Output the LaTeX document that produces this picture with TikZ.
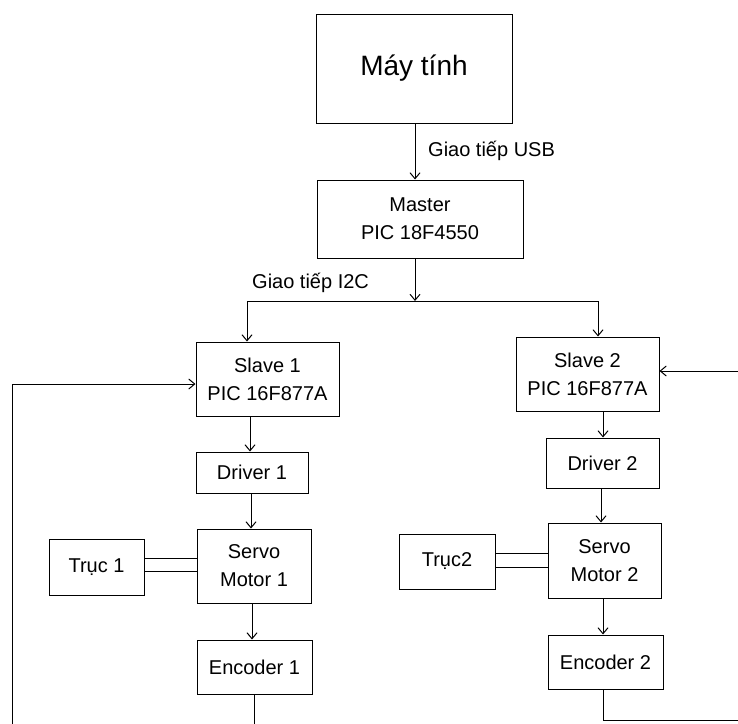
\documentclass[tikz,border=0pt]{standalone}
\usepackage{fontspec}
\setmainfont{Liberation Sans}
\usetikzlibrary{arrows.meta}
\begin{document}
\begin{tikzpicture}[x=1pt,y=-1pt,
  box/.style={draw,line width=1pt,rectangle,inner sep=0pt,align=center,
    font=\fontsize{20}{28}\selectfont},
  arr/.style={line width=1pt,-{Straight Barb[length=6pt,width=10pt,line width=1pt]}},
  ln/.style={line width=1pt},
  lbl/.style={inner sep=0pt,font=\fontsize{20}{24}\selectfont}]
\useasboundingbox (0,0) rectangle (738,723);
% boxes
\node[box,minimum width=196pt,minimum height=109pt,font=\fontsize{28}{32}\selectfont] (may) at (414,68.5) {Máy tính};
\node[box,minimum width=206pt,minimum height=78pt] (master) at (420,219) {Master\\PIC 18F4550};
\node[box,minimum width=143pt,minimum height=74pt] (s1) at (267.5,379) {Slave 1\\PIC 16F877A};
\node[box,minimum width=143pt,minimum height=74pt] (s2) at (587.5,374) {Slave 2\\PIC 16F877A};
\node[box,minimum width=112pt,minimum height=41pt] (d1) at (252,472.5) {Driver 1};
\node[box,minimum width=113pt,minimum height=50pt] (d2) at (602.5,463) {Driver 2};
\node[box,minimum width=114pt,minimum height=74pt] (m1) at (254,566) {Servo\\Motor 1};
\node[box,minimum width=113pt,minimum height=75pt] (m2) at (604.5,560.5) {Servo\\Motor 2};
\node[box,minimum width=95pt,minimum height=56pt] (t1) at (96.5,567) {Trục 1};
\node[box,minimum width=96pt,minimum height=55pt] (t2) at (447,561.5) {Trục2};
\node[box,minimum width=115pt,minimum height=54pt] (e1) at (254.5,667) {Encoder 1};
\node[box,minimum width=115pt,minimum height=54pt] (e2) at (605.5,662) {Encoder 2};
% labels
\node[lbl,anchor=west] (usb) at (428,151) {Giao tiếp USB};
\node[lbl,anchor=west] (i2c) at (252,283) {Giao tiếp I2C};
% bus
\coordinate (busL) at (247,301);
\coordinate (busR) at (598,301);
\coordinate (busM) at (415,301);
\draw[arr] (may.south -| busM) -- (master.north -| busM);
\draw[arr] (master.south -| busM) -- (busM);
\draw[ln] (busL) -- (busR);
\draw[arr] (busL) -- (s1.north -| busL);
\draw[arr] (busR) -- (s2.north -| busR);
% chain 1
\draw[arr] (s1.south -| 250,0) -- (d1.north -| 250,0);
\draw[arr] (d1.south -| 251,0) -- (m1.north -| 251,0);
\draw[arr] (m1.south -| 252,0) -- (e1.north -| 252,0);
\draw[ln] (t1.east |- 0,558) -- (m1.west |- 0,558);
\draw[ln] (t1.east |- 0,571) -- (m1.west |- 0,571);
% chain 2
\draw[arr] (s2.south -| 603,0) -- (d2.north -| 603,0);
\draw[arr] (d2.south -| 601,0) -- (m2.north -| 601,0);
\draw[arr] (m2.south -| 603,0) -- (e2.north -| 603,0);
\draw[ln] (t2.east |- 0,553) -- (m2.west |- 0,553);
\draw[ln] (t2.east |- 0,567) -- (m2.west |- 0,567);
% feedback loops
\coordinate (fb1) at (12,384);
\draw[arr] (e1.south -| 254,0) -- (254,745) -- (12,745) -- (fb1) -- (s1.west |- fb1);
\coordinate (fb2) at (752,371);
\draw[arr] (e2.south -| 603,0) -- (603,720) -- (752,720) -- (fb2) -- (s2.east |- fb2);
\end{tikzpicture}
\end{document}
